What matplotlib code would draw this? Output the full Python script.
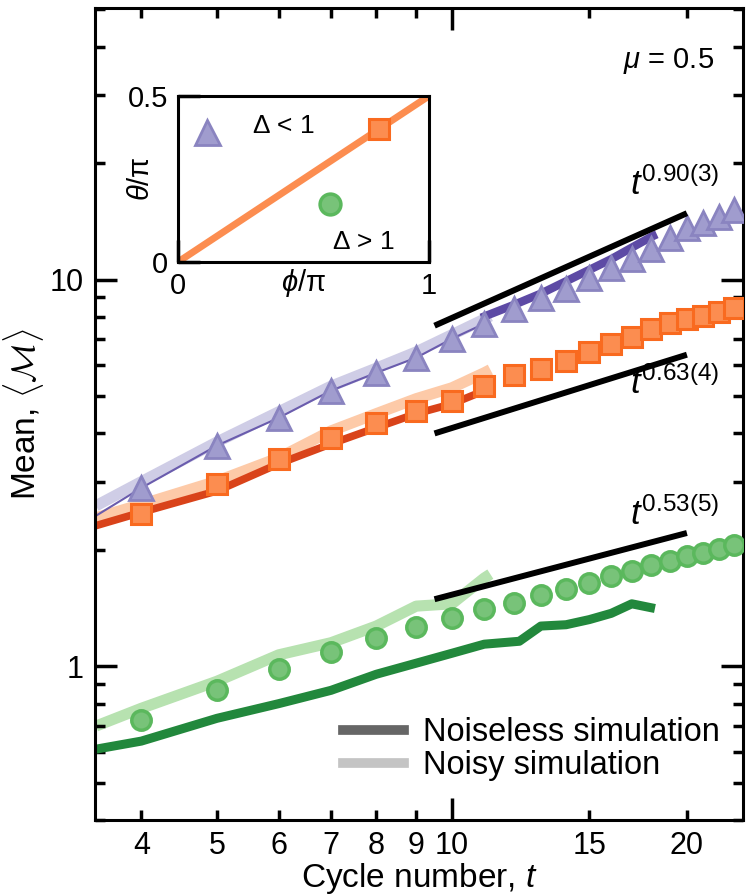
import matplotlib
matplotlib.use('Agg')
import matplotlib.pyplot as plt
import numpy as np
from matplotlib.ticker import FixedLocator, FixedFormatter, NullFormatter, LogLocator
from matplotlib.lines import Line2D

plt.rcParams['font.family'] = ['Liberation Sans', 'DejaVu Sans']
plt.rcParams['mathtext.fontset'] = 'custom'
plt.rcParams['mathtext.rm'] = 'Liberation Sans'
plt.rcParams['mathtext.it'] = 'Liberation Sans:italic'
plt.rcParams['mathtext.bf'] = 'Liberation Sans:bold'

# ---------------- data ----------------
t_markers = [4, 5, 6, 7, 8, 9, 10, 11, 12, 13, 14, 15, 16, 17, 18, 19, 20, 21, 22, 23]
purple_markers = [2.89, 3.72, 4.39, 5.16, 5.74, 6.28, 7.03, 7.69, 8.41, 8.98, 9.48,
                  10.1, 10.7, 11.3, 12.0, 12.8, 13.6, 14.0, 14.5, 15.1]
orange_markers = [2.48, 2.96, 3.44, 3.90, 4.26, 4.58, 4.86, 5.31, 5.67, 5.88, 6.17,
                  6.51, 6.83, 7.12, 7.46, 7.74, 7.93, 8.07, 8.26, 8.46]
green_markers = [0.725, 0.867, 0.982, 1.087, 1.18, 1.26, 1.33, 1.41, 1.46, 1.53, 1.58,
                 1.64, 1.71, 1.76, 1.83, 1.87, 1.93, 1.96, 2.01, 2.06]

# noisy simulations (light bands)
t_noisy = [3.5, 4, 5, 6, 7, 8, 9, 10, 11, 11.2]
purple_noisy = [2.6, 3.0, 3.8, 4.55, 5.3, 5.9, 6.5, 7.2, 7.9, 8.05]
orange_noisy = [2.42, 2.62, 3.01, 3.46, 4.06, 4.50, 4.92, 5.25, 5.74, 5.85]
green_noisy = [0.70, 0.778, 0.914, 1.07, 1.15, 1.27, 1.43, 1.45, 1.69, 1.73]

# noiseless simulations
t_purple_thin = [3.5, 4, 5, 6, 7, 8, 9, 10, 11]
purple_thin = [2.45, 2.89, 3.72, 4.39, 5.16, 5.74, 6.28, 7.03, 7.69]
t_purple_thick = [10.9, 12, 13, 14, 15, 16, 17, 18, 18.3]
purple_thick = [7.97, 8.6, 9.2, 9.9, 10.6, 11.3, 12.1, 12.9, 13.1]
t_orange_nl = [3.5, 4, 5, 6, 7, 8, 9, 10, 11]
orange_nl = [2.31, 2.50, 2.84, 3.34, 3.76, 4.14, 4.50, 4.77, 5.16]
t_green_nl = [3.5, 4, 5, 6, 7, 8, 9, 10, 11, 12.2, 13, 14, 15, 16, 17, 18.2]
green_nl = [0.61, 0.64, 0.733, 0.80, 0.866, 0.953, 1.018, 1.08, 1.14, 1.16, 1.27,
            1.28, 1.32, 1.37, 1.45, 1.41]

# power-law guides
guide_t = [9.5, 20.0]
guide_exponents = [0.90, 0.63, 0.53]
guide_start = [7.6, 4.0, 1.49]
guide_labels = [r'$t^{0.90(3)}$', r'$t^{0.63(4)}$', r'$t^{0.53(5)}$']
guide_label_pos = [(16.9, 17.6), (16.9, 5.4), (16.9, 2.47)]

x_minor_ticks = [4, 5, 6, 7, 8, 9, 15, 20]
x_minor_labels = ['4', '5', '6', '7', '8', '9', '15', '20']

# inset data
inset_line_x = [0, 1]
inset_line_y = [0, 0.5]
inset_tri = (0.115, 0.39)
inset_sq = (0.80, 0.40)
inset_circ = (0.605, 0.175)

# ---------------- colours ----------------
c_pur_face, c_pur_edge = '#a09cce', '#8a84c0'
c_pur_dark, c_pur_thin, c_pur_light = '#5d4aa5', '#6a5cad', '#cfcde6'
c_or_face, c_or_edge = '#fc8d50', '#f96a1f'
c_or_dark, c_or_light = '#d9431a', '#fdcaa8'
c_gr_face, c_gr_edge = '#78c379', '#5bb85d'
c_gr_dark, c_gr_light = '#22883c', '#b7e2b0'

fig = plt.figure(figsize=(7.5, 8.96), dpi=100)
ax = fig.add_axes([0.1267, 0.0848, 0.864, 0.9062])
ax.set_xscale('log')
ax.set_yscale('log')

# noisy bands
ax.plot(t_noisy, purple_noisy, color=c_pur_light, lw=8, solid_capstyle='butt', zorder=1)
ax.plot(t_noisy, orange_noisy, color=c_or_light, lw=8, solid_capstyle='butt', zorder=1)
ax.plot(t_noisy, green_noisy, color=c_gr_light, lw=8, solid_capstyle='butt', zorder=1)
# noiseless lines
ax.plot(t_purple_thin, purple_thin, color=c_pur_thin, lw=1.5, zorder=2)
ax.plot(t_purple_thick, purple_thick, color=c_pur_dark, lw=6, solid_capstyle='butt', zorder=2)
ax.plot(t_orange_nl, orange_nl, color=c_or_dark, lw=5.5, solid_capstyle='butt', zorder=2)
ax.plot(t_green_nl, green_nl, color=c_gr_dark, lw=6.5, solid_capstyle='butt', zorder=2)

# markers
ax.plot(t_markers, purple_markers, ls='none', marker='^', ms=17, mfc=c_pur_face,
        mec=c_pur_edge, mew=2, zorder=3)
ax.plot(t_markers, orange_markers, ls='none', marker='s', ms=14.5, mfc=c_or_face,
        mec=c_or_edge, mew=2.2, zorder=3)
ax.plot(t_markers, green_markers, ls='none', marker='o', ms=14, mfc=c_gr_face,
        mec=c_gr_edge, mew=2.5, zorder=3)

# guides
for p, a0, lab, pos in zip(guide_exponents, guide_start, guide_labels, guide_label_pos):
    tt = np.array(guide_t)
    ax.plot(tt, a0 * (tt / guide_t[0]) ** p, color='black', lw=4.3,
            solid_capstyle='butt', zorder=4)
    ax.text(pos[0], pos[1], lab, fontsize=25, ha='left', va='center', zorder=5)

ax.text(0.955, 0.935, r'$\mu$ = 0.5', transform=ax.transAxes, fontsize=21,
        ha='right', va='center')

ax.set_xlim(3.49, 23.6)
ax.set_ylim(0.4, 50.4)

ax.xaxis.set_major_locator(FixedLocator([10]))
ax.xaxis.set_major_formatter(FixedFormatter(['10']))
ax.xaxis.set_minor_locator(FixedLocator(x_minor_ticks))
ax.xaxis.set_minor_formatter(FixedFormatter(x_minor_labels))
ax.yaxis.set_major_locator(FixedLocator([1, 10]))
ax.yaxis.set_major_formatter(FixedFormatter(['1', '10']))
ax.yaxis.set_minor_locator(LogLocator(base=10, subs=np.arange(2, 10)))
ax.yaxis.set_minor_formatter(NullFormatter())

ax.tick_params(which='both', direction='in', top=True, right=True, labelsize=22)
ax.tick_params(which='major', length=16, width=2.5, pad=8)
ax.tick_params(which='minor', length=7.5, width=2.5, pad=8)
for s in ax.spines.values():
    s.set_linewidth(2.2)

ax.set_xlabel(r'Cycle number, $t$', fontsize=24, labelpad=0)
ax.set_ylabel(r'Mean, $\langle\mathcal{M}\rangle$', fontsize=24, labelpad=3,
              math_fontfamily='cm')

handles = [Line2D([], [], color='#666666', lw=7),
           Line2D([], [], color='#c4c4c4', lw=7)]
ax.legend(handles, ['Noiseless simulation', 'Noisy simulation'], loc='lower right',
          bbox_to_anchor=(1.0, 0.02), frameon=False, fontsize=23.5, handlelength=1.85,
          handletextpad=0.6, labelspacing=0.05, borderaxespad=0.3)

# ---------------- inset ----------------
axi = fig.add_axes([0.2373, 0.7076, 0.3347, 0.1853])
axi.plot(inset_line_x, inset_line_y, color='#fc8d50', lw=5, solid_capstyle='butt',
         zorder=1, clip_on=True)
axi.plot([inset_tri[0]], [inset_tri[1]], marker='^', ms=18, mfc=c_pur_face,
         mec=c_pur_edge, mew=2, ls='none', zorder=3)
axi.plot([inset_sq[0]], [inset_sq[1]], marker='s', ms=15, mfc=c_or_face,
         mec=c_or_edge, mew=2.2, ls='none', zorder=3)
axi.plot([inset_circ[0]], [inset_circ[1]], marker='o', ms=15, mfc=c_gr_face,
         mec=c_gr_edge, mew=2.5, ls='none', zorder=3)
axi.text(0.42, 0.82, r'$\Delta$ < 1', transform=axi.transAxes, fontsize=19,
         ha='center', va='center')
axi.text(0.74, 0.12, r'$\Delta$ > 1', transform=axi.transAxes, fontsize=19,
         ha='center', va='center')
axi.set_xlim(0, 1)
axi.set_ylim(0, 0.5)
axi.set_xticks([0, 1])
axi.set_xticklabels(['0', '1'])
axi.set_yticks([0, 0.5])
axi.set_yticklabels(['0', '0.5'])
axi.tick_params(direction='in', length=16, width=2.5, labelsize=21, pad=7)
for s in axi.spines.values():
    s.set_linewidth(2.2)
axi.set_xlabel(r'$\phi$/π', fontsize=21)
axi.xaxis.set_label_coords(0.5, -0.03)
axi.set_ylabel(r'$\theta$/π', fontsize=21)
axi.yaxis.set_label_coords(-0.09, 0.5)

fig.savefig('out.png', dpi=100)
